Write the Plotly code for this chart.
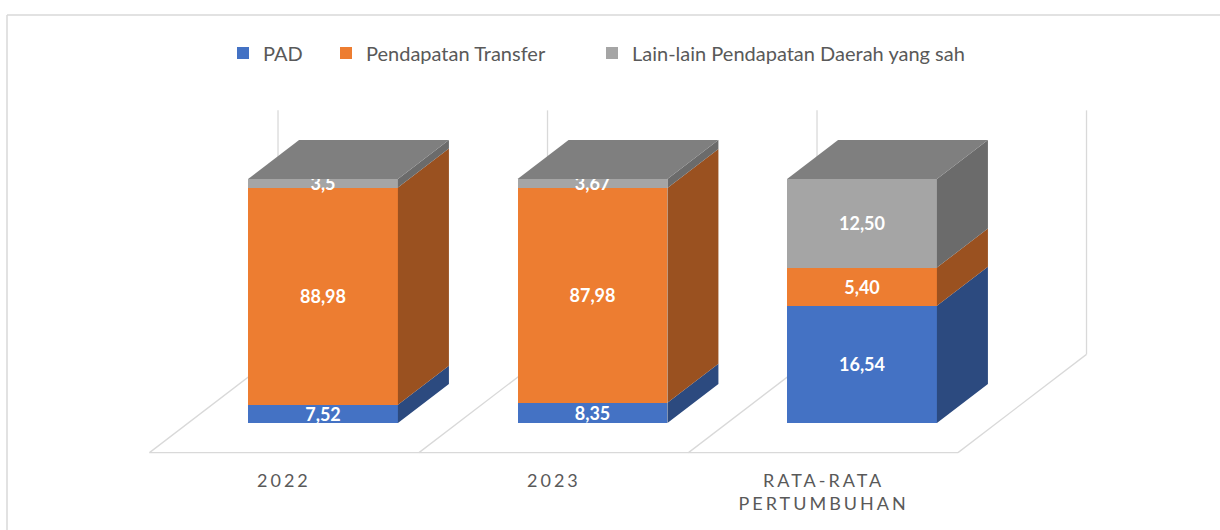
import numpy as np
import plotly.graph_objects as go

# ---- data -------------------------------------------------------------
categories = ["2022", "2023", "RATA-RATA<br>PERTUMBUHAN"]
series_names = ["PAD", "Pendapatan Transfer", "Lain-lain Pendapatan Daerah yang sah"]
pad = [7.52, 8.35, 16.54]
transfer = [88.98, 87.98, 5.40]
lain = [3.5, 3.67, 12.50]
pad_labels = ["7,52", "8,35", "16,54"]
transfer_labels = ["88,98", "87,98", "5,40"]
lain_labels = ["3,5", "3,67", "12,50"]

# ---- styling / geometry ----------------------------------------------
front_colors = ["#4472C4", "#ED7D31", "#A5A5A5"]
SIDE_SHADE = 0.65
TOP_SHADE = 0.77
GRID = "#D9D9D9"
TEXT = "#595959"

W, H = 1220, 530
STEP_PX = 269.5      # pixels between category centres
PCT_PX = 2.44        # pixels per percent
X0_PX = 323          # pixel column of the first category
Y0_PX = 423          # pixel row of 0 %
BAR_W = 0.556        # bar width in category units
DX = 51 / STEP_PX    # 3-D depth offset (x units)
DY = 39 / PCT_PX     # 3-D depth offset (y units)
GAP = 0.76           # floor margin before/behind the bars, in bar depths


def shade(hex_color, k):
    r, g, b = (int(hex_color[i:i + 2], 16) for i in (1, 3, 5))
    return "#%02X%02X%02X" % (round(r * k), round(g * k), round(b * k))


values = np.array([pad, transfer, lain], dtype=float)
labels = [pad_labels, transfer_labels, lain_labels]
xpos = np.arange(len(categories))

# 100 % stacking
pct = values / values.sum(axis=0) * 100
hi = np.cumsum(pct, axis=0)
lo = hi - pct

fig = go.Figure()

# front faces: 100 % stacked bars
for s, name in enumerate(series_names):
    fig.add_trace(go.Bar(
        x=xpos, y=values[s], name=name, width=BAR_W,
        marker=dict(color=front_colors[s], line=dict(width=0)),
        text=labels[s], textposition="inside", insidetextanchor="middle",
        textangle=0, constraintext="none",
        textfont=dict(family="Lato", size=18, color="white", weight="bold"),
        legend="legend" if s == 0 else f"legend{s + 1}",
        hoverinfo="skip",
    ))

# right-hand side faces of each stacked segment
for s in range(len(series_names)):
    xs, ys = [], []
    for i in xpos:
        xr = i + BAR_W / 2
        xs += [xr, xr + DX, xr + DX, xr, xr, None]
        ys += [lo[s, i], lo[s, i] + DY, hi[s, i] + DY, hi[s, i], lo[s, i], None]
    fig.add_trace(go.Scatter(
        x=xs, y=ys, mode="lines", fill="toself",
        fillcolor=shade(front_colors[s], SIDE_SHADE),
        line=dict(width=0), showlegend=False, hoverinfo="skip",
    ))

# top faces, coloured after the uppermost segment
for i in xpos:
    top_s = max(s for s in range(len(series_names)) if pct[s, i] > 0)
    xl, xr = i - BAR_W / 2, i + BAR_W / 2
    t = hi[top_s, i]
    fig.add_trace(go.Scatter(
        x=[xl, xl + DX, xr + DX, xr, xl],
        y=[t, t + DY, t + DY, t, t],
        mode="lines", fill="toself",
        fillcolor=shade(front_colors[top_s], TOP_SHADE),
        line=dict(width=0), showlegend=False, hoverinfo="skip",
    ))

# floor and back-wall grid lines
shapes = []
bounds = np.arange(len(categories) + 1) - 0.5
front_y = -GAP * DY
back_y = (1 + GAP) * DY
line = dict(color=GRID, width=1.3)
shapes.append(dict(type="line", xref="x", yref="y", layer="below",
                   x0=bounds[0] - GAP * DX, x1=bounds[-1] - GAP * DX,
                   y0=front_y, y1=front_y, line=line))
for b in bounds:
    shapes.append(dict(type="line", xref="x", yref="y", layer="below",
                       x0=b - GAP * DX, y0=front_y,
                       x1=b + (1 + GAP) * DX, y1=back_y, line=line))
    shapes.append(dict(type="line", xref="x", yref="y", layer="below",
                       x0=b + (1 + GAP) * DX, y0=back_y,
                       x1=b + (1 + GAP) * DX, y1=back_y + 100, line=line))

# chart-area border (top and left edges)
bx, by = 7 / W, 1 - 15 / H
border = dict(color=GRID, width=1.5)
shapes.append(dict(type="line", xref="paper", yref="paper",
                   x0=bx, x1=1.0, y0=by, y1=by, line=border))
shapes.append(dict(type="line", xref="paper", yref="paper",
                   x0=bx, x1=bx, y0=0, y1=by, line=border))

# category labels, centred on the front edge of each floor cell
annotations = [
    dict(x=i - GAP * DX, y=1 - 467 / H, xref="x", yref="paper",
         text=c, showarrow=False, xanchor="center", yanchor="top",
         font=dict(family="Lato", size=18, color=TEXT))
    for i, c in zip(xpos, categories)
]

legend_style = dict(orientation="h", yanchor="middle", y=1 - 53 / H,
                    xanchor="left", bgcolor="rgba(0,0,0,0)",
                    font=dict(family="Lato", size=20, color=TEXT))
legend_x_px = [223, 326, 592]

fig.update_layout(
    width=W, height=H,
    margin=dict(l=0, r=0, t=0, b=0),
    paper_bgcolor="white", plot_bgcolor="white",
    barmode="stack", barnorm="percent",
    hovermode=False,
    xaxis=dict(range=[-X0_PX / STEP_PX, (W - X0_PX) / STEP_PX],
               visible=False, fixedrange=True),
    yaxis=dict(range=[-(H - Y0_PX) / PCT_PX, Y0_PX / PCT_PX],
               visible=False, fixedrange=True),
    shapes=shapes,
    annotations=annotations,
    legend=dict(x=legend_x_px[0] / W, **legend_style),
    legend2=dict(x=legend_x_px[1] / W, **legend_style),
    legend3=dict(x=legend_x_px[2] / W, **legend_style),
)

# spaced-out lettering for the category labels
spacing_js = (
    "document.querySelectorAll('.annotation-text').forEach("
    "function(t){t.style.letterSpacing='3px';});"
)

fig.write_html("out.html", post_script=spacing_js)
